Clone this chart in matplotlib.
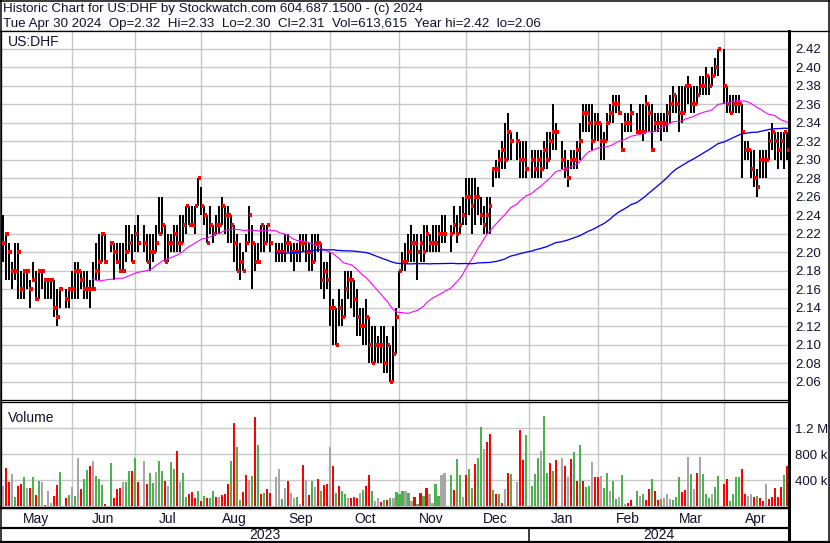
import numpy as np
import pandas as pd
import matplotlib
matplotlib.use("Agg")
import matplotlib.pyplot as plt
from matplotlib.transforms import blended_transform_factory

plt.rcParams['font.family'] = ['Liberation Sans', 'DejaVu Sans']

# ---------------- calendar ----------------
START, END = "2023-05-01", "2024-04-30"
holidays = ["2023-05-29", "2023-06-19", "2023-07-04", "2023-09-04", "2023-11-23",
            "2023-12-25", "2024-01-01", "2024-01-15", "2024-02-19", "2024-03-29"]

# ---------------- daily data (one value per trading day, May 2023 .. Apr 2024) ----------------
closes = [
    # May
    2.21, 2.22, 2.20, 2.18, 2.18, 2.20, 2.16, 2.18, 2.18, 2.16, 2.17, 2.15, 2.18, 2.18, 2.17, 2.17, 2.17, 2.14, 2.13, 2.16, 2.15, 2.16,
    # Jun
    2.16, 2.18, 2.18, 2.17, 2.16, 2.16, 2.16, 2.16, 2.18, 2.19, 2.22, 2.19, 2.21, 2.20, 2.19, 2.18, 2.18, 2.20, 2.21, 2.19, 2.22,
    # Jul
    2.21, 2.21, 2.19, 2.20, 2.20, 2.21, 2.22, 2.23, 2.19, 2.21, 2.21, 2.22, 2.21, 2.21, 2.23, 2.25, 2.23, 2.23, 2.25, 2.28,
    # Aug
    2.25, 2.24, 2.21, 2.23, 2.22, 2.23, 2.23, 2.25, 2.24, 2.24, 2.23, 2.21, 2.18, 2.19, 2.18, 2.21, 2.24, 2.21, 2.19, 2.19, 2.23, 2.21, 2.23,
    # Sep
    2.21, 2.20, 2.20, 2.20, 2.21, 2.21, 2.20, 2.20, 2.20, 2.21, 2.21, 2.20, 2.20, 2.19, 2.21, 2.21, 2.17, 2.18, 2.17, 2.14,
    # Oct
    2.14, 2.10, 2.14, 2.13, 2.16, 2.17, 2.17, 2.15, 2.13, 2.12, 2.12, 2.13, 2.10, 2.08, 2.10, 2.10, 2.10, 2.08, 2.10, 2.06, 2.09, 2.13,
    # Nov
    2.18, 2.19, 2.19, 2.20, 2.21, 2.21, 2.20, 2.21, 2.20, 2.22, 2.21, 2.21, 2.21, 2.22, 2.22, 2.22, 2.22, 2.23, 2.22, 2.23, 2.24,
    # Dec
    2.26, 2.26, 2.25, 2.26, 2.26, 2.24, 2.23, 2.24, 2.25, 2.29, 2.29, 2.30, 2.31, 2.30, 2.33, 2.32, 2.32, 2.30, 2.30, 2.29,
    # Jan
    2.30, 2.29, 2.30, 2.29, 2.31, 2.30, 2.32, 2.33, 2.33, 2.30, 2.29, 2.28, 2.30, 2.30, 2.31, 2.32, 2.35, 2.35, 2.34, 2.32, 2.34,
    # Feb
    2.34, 2.32, 2.32, 2.34, 2.35, 2.36, 2.36, 2.35, 2.31, 2.34, 2.34, 2.35, 2.33, 2.33, 2.33, 2.36, 2.35, 2.31, 2.34, 2.34,
    # Mar
    2.34, 2.34, 2.35, 2.36, 2.37, 2.36, 2.35, 2.35, 2.38, 2.38, 2.36, 2.36, 2.37, 2.38, 2.38, 2.39, 2.38, 2.39, 2.40, 2.42,
    # Apr
    2.38, 2.36, 2.35, 2.36, 2.36, 2.36, 2.33, 2.31, 2.31, 2.29, 2.28, 2.27, 2.30, 2.30, 2.30, 2.32, 2.33, 2.32, 2.31, 2.32, 2.33, 2.31,
]
highs = [
    2.24, 2.22, 2.21, 2.19, 2.21, 2.21, 2.18, 2.18, 2.18, 2.17, 2.19, 2.18, 2.18, 2.18, 2.17, 2.17, 2.17, 2.17, 2.16, 2.16, 2.16, 2.16,
    2.18, 2.19, 2.19, 2.18, 2.18, 2.18, 2.17, 2.19, 2.21, 2.22, 2.22, 2.22, 2.21, 2.21, 2.21, 2.21, 2.21, 2.23, 2.23, 2.22, 2.23,
    2.24, 2.23, 2.22, 2.22, 2.22, 2.23, 2.26, 2.26, 2.23, 2.22, 2.22, 2.23, 2.23, 2.24, 2.24, 2.25, 2.25, 2.25, 2.25, 2.28,
    2.27, 2.25, 2.24, 2.25, 2.23, 2.24, 2.25, 2.26, 2.25, 2.25, 2.24, 2.23, 2.22, 2.21, 2.20, 2.22, 2.25, 2.23, 2.21, 2.21, 2.23, 2.23, 2.23,
    2.22, 2.21, 2.21, 2.21, 2.22, 2.22, 2.21, 2.21, 2.21, 2.22, 2.22, 2.22, 2.21, 2.22, 2.22, 2.22, 2.21, 2.19, 2.19, 2.20,
    2.15, 2.14, 2.16, 2.15, 2.18, 2.18, 2.18, 2.17, 2.16, 2.14, 2.14, 2.15, 2.13, 2.12, 2.12, 2.11, 2.12, 2.12, 2.11, 2.10, 2.12, 2.14,
    2.18, 2.20, 2.21, 2.22, 2.23, 2.22, 2.22, 2.22, 2.23, 2.23, 2.22, 2.23, 2.23, 2.23, 2.24, 2.24, 2.23, 2.25, 2.24, 2.25, 2.26,
    2.28, 2.28, 2.28, 2.28, 2.27, 2.26, 2.25, 2.26, 2.26, 2.29, 2.30, 2.31, 2.32, 2.34, 2.35, 2.33, 2.33, 2.32, 2.32, 2.32,
    2.31, 2.31, 2.31, 2.31, 2.32, 2.33, 2.33, 2.36, 2.34, 2.32, 2.31, 2.30, 2.31, 2.31, 2.32, 2.34, 2.36, 2.36, 2.36, 2.36, 2.35,
    2.35, 2.34, 2.33, 2.35, 2.36, 2.37, 2.37, 2.37, 2.34, 2.35, 2.35, 2.36, 2.35, 2.36, 2.36, 2.37, 2.36, 2.36, 2.35, 2.35,
    2.35, 2.35, 2.36, 2.37, 2.38, 2.37, 2.38, 2.38, 2.38, 2.39, 2.38, 2.38, 2.38, 2.39, 2.39, 2.40, 2.39, 2.40, 2.41, 2.42,
    2.42, 2.38, 2.37, 2.37, 2.37, 2.37, 2.36, 2.32, 2.32, 2.31, 2.31, 2.29, 2.31, 2.31, 2.31, 2.33, 2.34, 2.33, 2.33, 2.33, 2.33, 2.33,
]
lows = [
    2.19, 2.17, 2.17, 2.16, 2.17, 2.15, 2.15, 2.15, 2.16, 2.14, 2.17, 2.15, 2.15, 2.16, 2.15, 2.15, 2.15, 2.13, 2.12, 2.14, 2.14, 2.14,
    2.15, 2.15, 2.15, 2.16, 2.15, 2.15, 2.14, 2.16, 2.17, 2.17, 2.19, 2.19, 2.20, 2.17, 2.19, 2.18, 2.18, 2.19, 2.20, 2.19, 2.20,
    2.20, 2.20, 2.19, 2.18, 2.19, 2.20, 2.22, 2.22, 2.19, 2.19, 2.20, 2.20, 2.20, 2.20, 2.21, 2.22, 2.23, 2.23, 2.22, 2.25,
    2.24, 2.23, 2.21, 2.22, 2.21, 2.22, 2.22, 2.23, 2.22, 2.21, 2.21, 2.19, 2.18, 2.17, 2.18, 2.20, 2.21, 2.16, 2.18, 2.19, 2.20, 2.20, 2.21,
    2.20, 2.19, 2.19, 2.19, 2.19, 2.20, 2.19, 2.18, 2.19, 2.19, 2.20, 2.19, 2.18, 2.18, 2.19, 2.20, 2.16, 2.15, 2.16, 2.12,
    2.10, 2.10, 2.12, 2.12, 2.13, 2.15, 2.14, 2.13, 2.11, 2.11, 2.10, 2.10, 2.08, 2.08, 2.08, 2.08, 2.08, 2.07, 2.07, 2.06, 2.06, 2.09,
    2.14, 2.18, 2.18, 2.19, 2.19, 2.19, 2.17, 2.19, 2.19, 2.20, 2.20, 2.20, 2.20, 2.20, 2.21, 2.21, 2.20, 2.22, 2.21, 2.22, 2.23,
    2.23, 2.24, 2.22, 2.23, 2.24, 2.23, 2.22, 2.22, 2.22, 2.27, 2.28, 2.28, 2.29, 2.29, 2.30, 2.30, 2.30, 2.28, 2.28, 2.28,
    2.28, 2.28, 2.28, 2.28, 2.29, 2.29, 2.30, 2.31, 2.31, 2.29, 2.28, 2.27, 2.29, 2.29, 2.29, 2.30, 2.33, 2.33, 2.33, 2.31, 2.32,
    2.32, 2.30, 2.30, 2.32, 2.34, 2.34, 2.35, 2.35, 2.31, 2.33, 2.33, 2.33, 2.33, 2.33, 2.32, 2.33, 2.33, 2.31, 2.33, 2.33,
    2.32, 2.33, 2.33, 2.34, 2.35, 2.35, 2.33, 2.34, 2.35, 2.36, 2.35, 2.35, 2.36, 2.37, 2.37, 2.37, 2.37, 2.38, 2.39, 2.39,
    2.36, 2.35, 2.35, 2.35, 2.35, 2.35, 2.28, 2.30, 2.30, 2.28, 2.27, 2.26, 2.28, 2.28, 2.28, 2.30, 2.31, 2.30, 2.29, 2.30, 2.29, 2.30,
]
# volume in thousands of shares
volume_k = [
    314, 592, 376, 494, 144, 314, 340, 448, 283, 283, 448, 175, 386, 371, 20, 232, 51, 160, 324, 525, 129, 170,
    294, 155, 742, 263, 417, 556, 618, 695, 469, 417, 330, 31, 664, 129, 263, 278, 371, 371, 541, 541, 742,
    371, 695, 340, 510, 355, 525, 695, 541, 386, 309, 680, 572, 850, 371, 510, 144, 185, 216, 124, 232,
    77, 155, 124, 124, 232, 144, 144, 170, 185, 340, 695, 1282, 912, 93, 216, 479, 402, 463, 1375, 942, 185, 201, 263,
    201, 448, 572, 108, 278, 386, 201, 124, 139, 31, 633, 402, 170, 386, 294, 417, 232, 324, 340, 912,
    618, 201, 309, 232, 185, 124, 124, 139, 124, 201, 247, 309, 479, 232, 77, 124, 62, 93, 93, 124, 124, 216,
    185, 232, 232, 201, 77, 139, 30, 201, 155, 278, 185, 46, 340, 155, 479, 510, 479, 247, 726, 479, 139,
    479, 572, 278, 649, 742, 1221, 881, 989, 1112, 247, 185, 185, 46, 263, 510, 494, 371, 1174, 711, 1097,
    309, 494, 742, 850, 1390, 510, 664, 541, 711, 742, 618, 448, 726, 834, 386, 942, 386, 294, 309, 680, 448,
    448, 463, 278, 510, 232, 386, 108, 139, 479, 31, 46, 93, 232, 155, 185, 93, 263, 417, 232, 93,
    108, 124, 185, 108, 93, 139, 448, 216, 247, 757, 494, 263, 510, 757, 494, 185, 124, 185, 294, 463,
    340, 417, 77, 185, 448, 448, 572, 185, 155, 185, 139, 155, 124, 77, 340, 108, 139, 278, 139, 294, 479, 613.615,
]
# bar colour code of each volume bar: r = down, g = up, n = unchanged
volume_dir = list(
    "nrrngrrgnrgrgnrnnrrgrg"
    "ngnrggrngggrgrrrngg" "rg"
    "rnrggnggrnggrnggrrrg"
    "rgrggrnrrrgrggrrngrgrgr"
    "rnngnrnngnrnrgnrgrrn"
    "rgrggnrrrngrrgnnrgrgngggngnr"
    "grgrnnggnngrggnrggrggnr"
    "rgrgrnrgnrrggggnggrg"
    "rnrnrgrgrggnrrnggnggngnrrgng"
    "rrgrrgnnngggrrngnrng"
    "ggnggrrggggrr" "nn" "rgrrnrr"
    "rrrgrnrrnrrrgnngg" "rrggr"
)

# ---------------- derived positions ----------------
weekdays = pd.bdate_range(START, END)
hol = pd.to_datetime(holidays)
trade_days = weekdays[~weekdays.isin(hol)]
slot_index = {d: i for i, d in enumerate(weekdays)}
x = np.array([slot_index[d] for d in trade_days], dtype=float)

closes_s = pd.Series(closes)
ma_fast = closes_s.rolling(30).mean().values
ma_slow = closes_s.rolling(88).mean().values

vol_colors = {"r": "#ff0000", "g": "#4cb24c", "n": "#a6a6a6"}
vdir = (volume_dir + ["n"] * len(volume_k))[:len(volume_k)]
bar_cols = [vol_colors[c] for c in vdir]

# month grid positions: weekday slot of the first of month (weekend -> previous Friday)
month_starts = pd.date_range("2023-06-01", "2024-04-01", freq="MS")
grid_slots = []
for d in month_starts:
    dd = np.busday_offset(d.date(), 0, roll="backward")
    grid_slots.append(int(np.busday_count(np.datetime64(START), dd)))
month_names = ["May", "Jun", "Jul", "Aug", "Sep", "Oct", "Nov", "Dec", "Jan", "Feb", "Mar", "Apr"]
month_mid = []
for m in pd.date_range("2023-05-01", "2024-04-01", freq="MS"):
    idx = [slot_index[d] for d in weekdays if d.year == m.year and d.month == m.month]
    month_mid.append(np.mean(idx))

# ---------------- figure ----------------
W, H = 830, 543
fig = plt.figure(figsize=(W / 100, H / 100), dpi=100)


def rect(x0, y0, x1, y1):
    return [x0 / W, 1 - y1 / H, (x1 - x0) / W, (y1 - y0) / H]


PX = 0.72  # one pixel in points
XL = (-0.57, 261.6)
GRID = "#c8c8c8"
TXT = "#101030"

bg = fig.add_axes([0, 0, 1, 1], zorder=-5)
bg.set_xlim(0, W)
bg.set_ylim(H, 0)
bg.axis("off")

ax_p = fig.add_axes(rect(1, 31, 789, 400.3))
ax_v = fig.add_axes(rect(1, 402.2, 789, 507.5))

for ax in (ax_p, ax_v):
    ax.set_xlim(*XL)
    ax.set_xticks(grid_slots)
    ax.tick_params(axis="x", length=0, labelbottom=False)
    ax.yaxis.tick_right()
    ax.tick_params(axis="y", length=0, pad=4.5, labelsize=9.5, labelcolor=TXT)
    ax.grid(True, color=GRID, lw=1.4 * PX)
    ax.set_axisbelow(True)
    for s in ax.spines.values():
        s.set_color("black")

# price panel
ax_p.set_ylim(2.0402, 2.4390)
pt = np.round(np.arange(2.06, 2.4201, 0.02), 2)
ax_p.set_yticks(pt)
ax_p.set_yticklabels([f"{v:.2f}" for v in pt])
ax_p.spines["top"].set_linewidth(1.3 * PX)
ax_p.spines["bottom"].set_linewidth(1.3 * PX)
ax_p.spines["left"].set_linewidth(1.3 * PX)
ax_p.spines["right"].set_linewidth(3 * PX)

ax_p.vlines(x, lows, highs, color="black", lw=1.6 * PX, zorder=3, antialiased=False)
ax_p.hlines(closes, x - 0.15, x + 0.95, color="#ff0000", lw=2.2 * PX, zorder=4, antialiased=False)
ax_p.plot(x, ma_fast, color="#ff00ff", lw=1.1 * PX, zorder=5)
ax_p.plot(x, ma_slow, color="#0000ff", lw=1.3 * PX, zorder=5)
ax_p.text(0.009, 0.970, "US:DHF", transform=ax_p.transAxes, fontsize=10,
          va="center", ha="left", color=TXT)

# volume panel
ax_v.set_ylim(-18, 1604)
ax_v.set_yticks([400, 800, 1200])
ax_v.set_yticklabels(["400 k", "800 k", "1.2 M"])
ax_v.spines["top"].set_linewidth(1.3 * PX)
ax_v.spines["bottom"].set_linewidth(2.5 * PX)
ax_v.spines["left"].set_linewidth(1.3 * PX)
ax_v.spines["right"].set_linewidth(3 * PX)
ax_v.bar(x, volume_k, width=0.7, color=bar_cols, zorder=3, antialiased=False)
ax_v.text(0.009, 0.85, "Volume", transform=ax_v.transAxes, fontsize=10,
          va="center", ha="left", color=TXT)

# month & year labels under the volume panel
tr = blended_transform_factory(ax_v.transData, bg.transData)
for name, mx in zip(month_names, month_mid):
    bg.text(mx, 519, name, transform=tr, ha="center", va="center", fontsize=10, color=TXT)
jan_slot = grid_slots[7]
bg.text((XL[0] + jan_slot) / 2, 535, "2023", transform=tr, ha="center", va="center", fontsize=10, color=TXT)
bg.text((jan_slot + XL[1]) / 2, 535, "2024", transform=tr, ha="center", va="center", fontsize=10, color=TXT)
bg.plot([jan_slot, jan_slot], [527.5, 541.5], transform=tr, color="black", lw=1.5 * PX)

# frame lines
bg.plot([0, W], [31, 31], color="black", lw=1.3 * PX)
bg.plot([0.5, 789], [527.5, 527.5], color="black", lw=2.2 * PX)
bg.plot([789, 789], [31, 541.5], color="black", lw=3 * PX)
bg.plot([0, W], [541.5, 541.5], color="black", lw=2.2 * PX)
bg.plot([0.5, 0.5], [0, H], color="black", lw=1.5 * PX)
bg.plot([828.5, 828.5], [0, H], color="black", lw=1.5 * PX)
bg.plot([0, W], [0.5, 0.5], color="black", lw=1.5 * PX)

# header
bg.text(3, 9, "Historic Chart for US:DHF by Stockwatch.com 604.687.1500 - (c) 2024",
        fontsize=9.6, va="center", ha="left", color=TXT)
bg.text(3, 24, "Tue Apr 30 2024  Op=2.32  Hi=2.33  Lo=2.30  Cl=2.31  Vol=613,615  Year hi=2.42  lo=2.06",
        fontsize=9.6, va="center", ha="left", color=TXT)

fig.savefig("out.png", dpi=100)
